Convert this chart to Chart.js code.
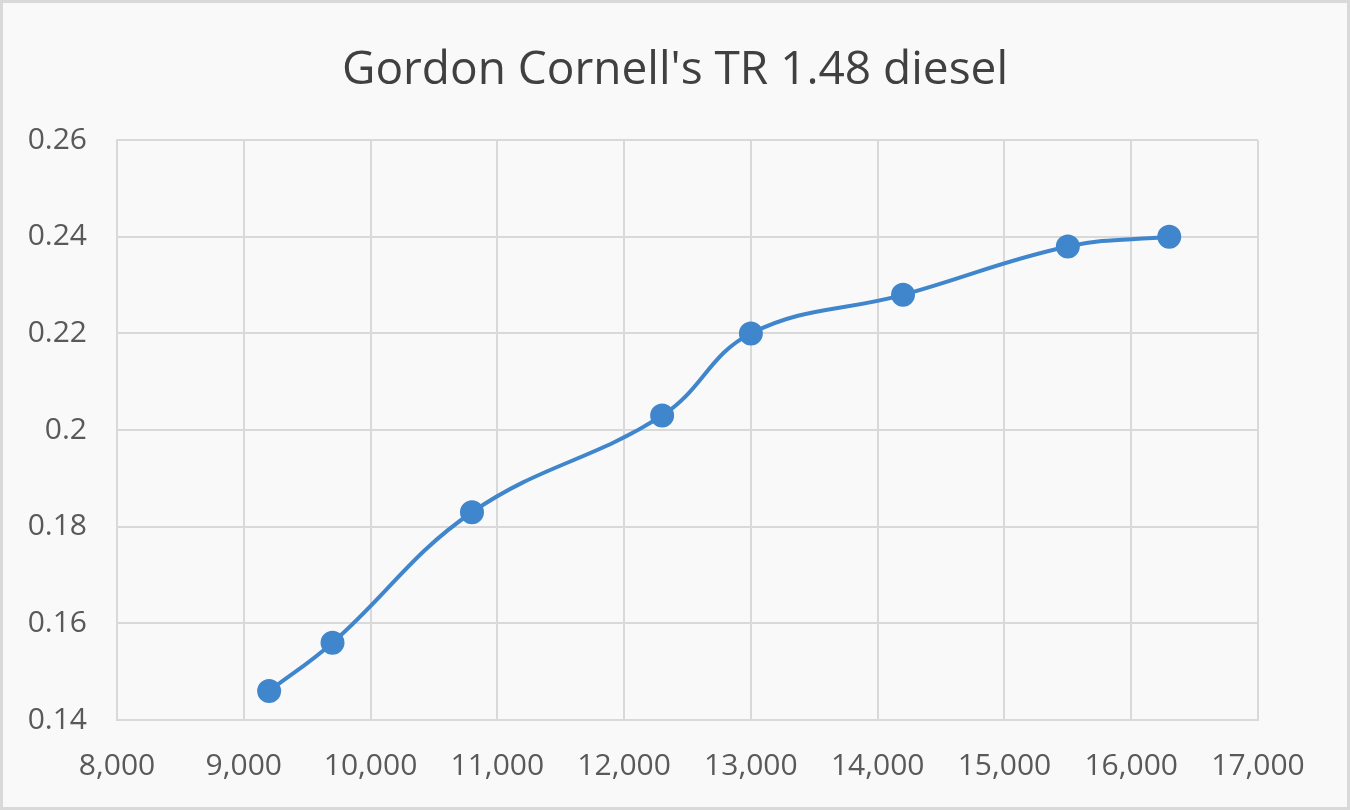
<!DOCTYPE html>
<html>
<head>
<meta charset="utf-8">
<script src="https://cdn.jsdelivr.net/npm/chart.js@4"></script>
<style>
  html, body { margin: 0; padding: 0; background: #f9f9f9; }
  #wrap { width: 1350px; height: 810px; }
</style>
</head>
<body>
<div id="wrap"><canvas id="chartLine" width="1350" height="810"></canvas></div>
<script>
const rpm = [9200, 9700, 10800, 12300, 13000, 14200, 15500, 16300];
const torque = [0.146, 0.156, 0.183, 0.203, 0.220, 0.228, 0.238, 0.240];
const xTicks = [8000, 17000, 1000];
const yTicks = [0.14, 0.26, 0.02];

const frame = {
    id: "frame",
    beforeDraw(chart) {
        const ctx = chart.ctx;
        ctx.save();
        ctx.fillStyle = "#f9f9f9";
        ctx.fillRect(0, 0, chart.width, chart.height);
        ctx.strokeStyle = "#d9d9d9";
        ctx.lineWidth = 3;
        ctx.strokeRect(1.5, 1.5, chart.width - 3, chart.height - 3);
        ctx.restore();
    },
};

const chartLine = new Chart("chartLine", {
    type: "scatter",
    data: {
    datasets: [
        {
        label: "",
        data: rpm.map((x, i) => ({ x: x, y: torque[i] })),
        showLine: true,
        borderColor: "rgb(64, 134, 204)",
        backgroundColor: "rgb(64, 134, 204)",
        borderWidth: 4,
        pointRadius: 10,
        pointHoverRadius: 10,
        tension: 0.4,
        },
    ],
    },
    plugins: [frame],
    options: {
    responsive: false,
    animation: false,
    layout: { padding: 0 },
    plugins: {
        legend: { display: false },
        tooltip: { enabled: false },
        title: {
        display: true,
        text: "Gordon Cornell's TR 1.48 diesel",
        color: "#404040",
        font: { family: "'Open Sans'", size: 46, weight: "normal" },
        padding: { top: 43, bottom: 42 },
        },
    },
    scales: {
        x: {
        type: "linear",
        min: xTicks[0],
        max: xTicks[1],
        afterFit: (s) => { s.height = 90; },
        grid: { color: "#d9d9d9", lineWidth: 2, drawTicks: false },
        border: { color: "#d9d9d9", width: 2 },
        ticks: {
            stepSize: xTicks[2],
            color: "#595959",
            padding: 28,
            font: { family: "'Open Sans'", size: 30 },
            callback: (v) => v.toLocaleString("en-US"),
        },
        },
        y: {
        min: yTicks[0],
        max: yTicks[1],
        afterFit: (s) => { s.width = 117; },
        grid: { color: "#d9d9d9", lineWidth: 2, drawTicks: false },
        border: { color: "#d9d9d9", width: 2 },
        ticks: {
            stepSize: yTicks[2],
            color: "#595959",
            padding: 30,
            font: { family: "'Open Sans'", size: 30 },
            callback: (v) => String(+v.toFixed(2)),
        },
        },
        yRight: {
        position: "right",
        min: yTicks[0],
        max: yTicks[1],
        afterFit: (s) => { s.width = 92; },
        grid: { display: false, drawOnChartArea: false },
        border: { display: false },
        ticks: { display: false },
        },
    },
    },
});
</script>
</body>
</html>
